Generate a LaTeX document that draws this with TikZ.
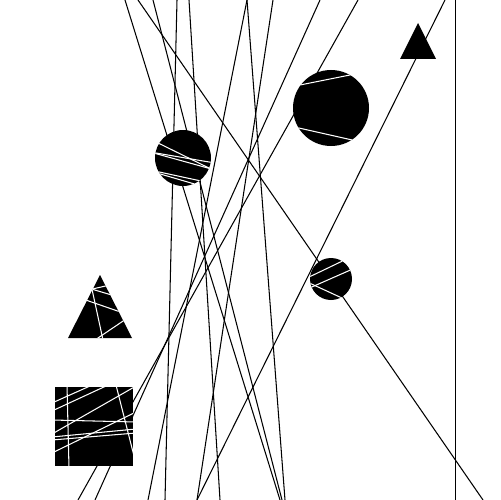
\documentclass[tikz,border=0pt]{standalone}
\usetikzlibrary{calc}
\begin{document}
\begin{tikzpicture}[x=0.02cm,y=-0.02cm,
    ray/.style={draw=black,line width=0.6pt},
    blob/.style={fill=black},
    hatch/.style={draw=white,line width=0.6pt}]
  \useasboundingbox (0,0) rectangle (500,500);
  % long lines, top edge to bottom edge
  \foreach \a/\b in {125/280,138/483,153/282,177/165,189/220,247/148,247/285,273/197,320/95,358/78,445/197}
    \draw[ray] (\a,0) -- (\b,500);
  \draw[ray,line width=0.5pt] (455,0) -- (455,500);
  % shapes on top
  \fill[blob] (418,23) -- (436,59) -- (400,59) -- cycle;
  \fill[blob] (331,108) circle[radius=38];
  \fill[blob] (183,158) circle[radius=28];
  \fill[blob] (331,279) circle[radius=21];
  \fill[blob] (100,275) -- (132,338) -- (68,338) -- cycle;
  \fill[blob] (55,387) rectangle (133,466);
  % white strokes inside the shapes
  \begin{scope}
    \clip (331,108) circle[radius=38];
    \draw[hatch] (290,87) -- (370,71);
    \draw[hatch] (290,126) -- (370,144);
  \end{scope}
  \begin{scope}
    \clip (183,158) circle[radius=28];
    \draw[hatch] (150,139) -- (215,171);
    \draw[hatch] (150,152) -- (215,163);
    \draw[hatch] (150,152) -- (215,170);
    \draw[hatch] (150,170) -- (215,184);
    \draw[hatch] (150,171) -- (215,190);
  \end{scope}
  \begin{scope}
    \clip (331,279) circle[radius=21];
    \draw[hatch] (305,279) -- (355,255);
    \draw[hatch] (305,290) -- (355,268);
    \draw[hatch] (305,281) -- (355,304);
  \end{scope}
  \begin{scope}
    \clip (100,275) -- (132,338) -- (68,338) -- cycle;
    \draw[hatch] (80,298) -- (132,316);
    \draw[hatch] (90,280) -- (103,340);
    \draw[hatch] (95,340) -- (132,315);
    \draw[hatch] (88,290) -- (110,285);
    \draw[hatch] (88,288) -- (115,296);
  \end{scope}
  \begin{scope}
    \clip (55,387) rectangle (133,466);
    \draw[hatch] (67,385) -- (69,468);
    \draw[hatch] (116,385) -- (134,456);
    \draw[hatch] (52,420) -- (136,422);
    \draw[hatch] (52,403) -- (90,386);
    \draw[hatch] (52,411) -- (106,386);
    \draw[hatch] (52,434) -- (136,386);
    \draw[hatch] (52,453) -- (136,412);
    \draw[hatch] (52,437) -- (136,429);
    \draw[hatch] (52,440) -- (136,433);
  \end{scope}
\end{tikzpicture}
\end{document}
